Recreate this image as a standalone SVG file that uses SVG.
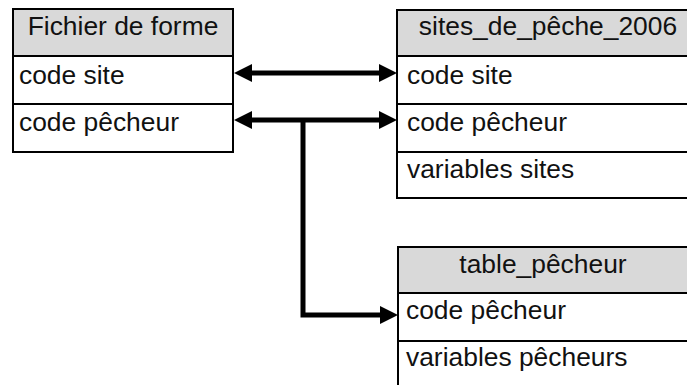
<svg xmlns="http://www.w3.org/2000/svg" width="687" height="385" viewBox="0 0 687 385">
<style>
.hdr{fill:#d9d9d9;stroke:none}
.box{fill:none;stroke:#000;stroke-width:2}
.ln{stroke:#000;stroke-width:2}
text{font-family:"Liberation Sans",Arial,sans-serif;font-size:26.4px;fill:#111}
.c{text-anchor:middle}
.conn{fill:none;stroke:#000;stroke-width:5;stroke-linejoin:miter}
</style>
<defs>
<marker id="ah" markerUnits="userSpaceOnUse" markerWidth="19" markerHeight="19" refX="6" refY="9" orient="auto-start-reverse">
<path d="M0,0 L18,9 L0,18 z" fill="#000"/>
</marker>
</defs>
<rect width="687" height="385" fill="#fff"/>
<g id="fichier_de_forme">
<rect class="hdr" x="13" y="9" width="220" height="47"/>
<rect class="box" x="13" y="9" width="220" height="143"/>
<line class="ln" x1="13" y1="56" x2="233" y2="56"/>
<line class="ln" x1="13" y1="104" x2="233" y2="104"/>
<text class="c" x="123" y="35">Fichier de forme</text>
<text x="19" y="84">code site</text>
<text x="19" y="131">code pêcheur</text>
</g>
<g id="sites_de_peche_2006">
<rect class="hdr" x="397" y="10" width="302" height="46"/>
<rect class="box" x="397" y="10" width="302" height="188"/>
<line class="ln" x1="397" y1="56" x2="699" y2="56"/>
<line class="ln" x1="397" y1="104" x2="699" y2="104"/>
<line class="ln" x1="397" y1="152" x2="699" y2="152"/>
<text class="c" x="548" y="35">sites_de_pêche_2006</text>
<text x="407" y="84">code site</text>
<text x="407" y="131">code pêcheur</text>
<text x="407" y="178">variables sites</text>
</g>
<g id="table_pecheur">
<rect class="hdr" x="398" y="247" width="300" height="46"/>
<rect class="box" x="398" y="247" width="300" height="150"/>
<line class="ln" x1="398" y1="293" x2="698" y2="293"/>
<line class="ln" x1="398" y1="341" x2="698" y2="341"/>
<text class="c" x="543" y="273">table_pêcheur</text>
<text x="406" y="319">code pêcheur</text>
<text x="406" y="366">variables pêcheurs</text>
</g>
<g id="connectors">
<path class="conn" d="M246,73 H385" marker-start="url(#ah)" marker-end="url(#ah)"/>
<path class="conn" d="M246,120 H385" marker-start="url(#ah)" marker-end="url(#ah)"/>
<path class="conn" d="M303,120 V315 H386" marker-end="url(#ah)"/>
</g>
</svg>
